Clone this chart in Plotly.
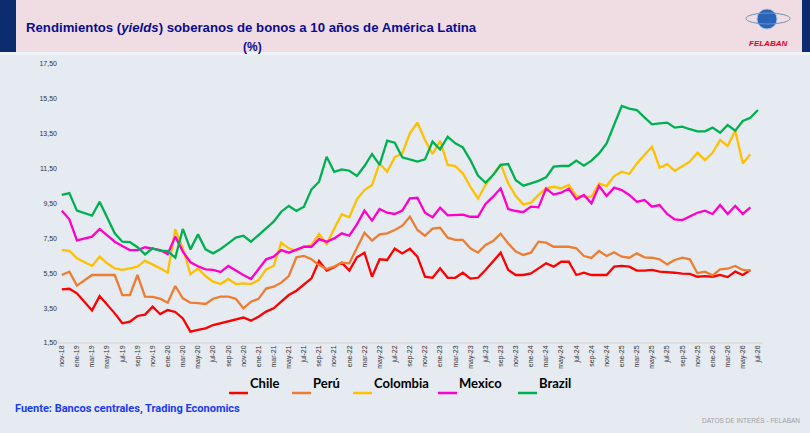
import plotly.graph_objects as go

# monthly labels nov-18 .. jul-26 (spanish abbreviations)
mes = ['ene', 'feb', 'mar', 'abr', 'may', 'jun', 'jul', 'ago', 'sep', 'oct', 'nov', 'dic']
meses = []
m, y = 10, 18
while (y, m) <= (26, 6):
    meses.append(f"{mes[m]}-{y}")
    m += 1
    if m == 12:
        m, y = 0, y + 1

chile = [4.58, 4.61, 4.35, 3.87, 3.37, 4.19, 3.72, 3.20, 2.63, 2.72, 3.05, 3.13, 3.58, 3.16, 3.39, 3.28,
         2.91, 2.15, 2.25, 2.34, 2.53, 2.63, 2.72, 2.86, 2.96, 2.78, 3.01, 3.30, 3.49, 3.87, 4.25, 4.50,
         4.86, 5.21, 6.20, 5.65, 5.84, 6.11, 5.65, 6.41, 6.68, 5.30, 6.30, 6.26, 6.91, 6.64, 6.91, 6.45,
         5.30, 5.24, 5.78, 5.24, 5.24, 5.53, 5.19, 5.24, 5.69, 6.20, 6.68, 5.69, 5.40, 5.40, 5.49, 5.78,
         6.07, 5.88, 6.16, 6.16, 5.40, 5.53, 5.40, 5.40, 5.40, 5.88, 5.92, 5.88, 5.65, 5.65, 5.69, 5.59,
         5.57, 5.53, 5.48, 5.46, 5.30, 5.34, 5.30, 5.40, 5.28, 5.59, 5.40, 5.69]

peru = [5.40, 5.59, 4.79, 5.11, 5.40, 5.40, 5.40, 5.40, 4.25, 4.25, 5.40, 4.16, 4.14, 4.04, 3.81, 4.77,
        4.06, 3.81, 3.79, 3.74, 4.04, 4.16, 4.16, 4.04, 3.49, 3.87, 4.03, 4.62, 4.73, 4.96, 5.34, 6.41,
        6.49, 6.30, 5.97, 5.74, 5.88, 6.11, 6.07, 6.93, 7.83, 7.37, 7.73, 7.79, 7.98, 8.23, 8.74, 7.98,
        7.65, 8.06, 8.11, 7.54, 7.41, 7.41, 6.93, 6.68, 7.12, 7.35, 7.77, 7.21, 6.74, 6.55, 6.68, 7.31,
        7.25, 7.02, 7.02, 7.02, 6.93, 6.49, 6.38, 6.78, 6.49, 6.70, 6.45, 6.39, 6.64, 6.41, 6.39, 6.30,
        6.01, 6.26, 6.39, 6.30, 5.50, 5.59, 5.38, 5.72, 5.76, 5.92, 5.69, 5.65]

colombia = [6.83, 6.79, 6.36, 6.13, 5.92, 6.45, 6.07, 5.78, 5.69, 5.78, 5.88, 6.22, 6.01, 5.78, 5.53, 8.02,
            6.93, 5.44, 5.78, 5.34, 5.02, 4.88, 5.17, 4.88, 4.92, 4.88, 5.11, 5.72, 5.92, 7.25, 6.93, 6.79,
            7.02, 7.12, 7.75, 7.17, 8.05, 8.88, 8.71, 9.74, 10.27, 10.56, 11.80, 11.32, 12.15, 12.37, 13.52, 14.13,
            13.14, 12.34, 13.10, 11.71, 11.65, 11.23, 10.46, 9.79, 10.56, 11.13, 11.76, 10.65, 9.93, 9.45, 9.55, 9.99,
            10.37, 10.46, 10.37, 10.56, 9.93, 9.89, 9.89, 10.65, 10.50, 11.07, 11.32, 11.19, 11.80, 12.28, 12.76, 11.55,
            11.76, 11.38, 11.65, 11.90, 12.41, 11.99, 12.41, 13.14, 12.80, 13.68, 11.80, 12.32]

mexico = [9.09, 8.59, 7.39, 7.50, 7.60, 8.04, 7.70, 7.31, 7.06, 6.83, 6.83, 6.99, 6.91, 6.83, 6.60, 7.60,
          6.74, 6.13, 5.90, 5.72, 5.69, 5.57, 5.92, 5.65, 5.40, 5.17, 5.72, 6.30, 6.45, 6.83, 6.68, 6.83,
          7.02, 7.02, 7.46, 7.31, 7.50, 7.79, 7.65, 8.30, 9.09, 8.52, 9.18, 8.97, 8.90, 9.09, 9.79, 9.83,
          8.97, 8.71, 9.26, 8.82, 8.86, 8.86, 8.74, 8.74, 9.47, 9.89, 10.37, 9.18, 9.07, 9.01, 9.32, 9.28,
          10.35, 10.01, 10.12, 10.35, 9.74, 9.99, 9.51, 10.50, 9.93, 10.41, 10.27, 9.99, 9.60, 9.70, 9.32, 9.41,
          8.90, 8.59, 8.55, 8.78, 8.97, 9.09, 8.90, 9.41, 8.90, 9.36, 8.90, 9.28]

brazil = [9.99, 10.10, 9.09, 8.94, 8.80, 9.60, 8.65, 7.79, 7.31, 7.29, 6.99, 6.58, 6.93, 6.79, 6.77, 6.39,
          8.04, 6.87, 7.73, 6.87, 6.64, 6.89, 7.21, 7.54, 7.65, 7.31, 7.69, 8.07, 8.46, 9.03, 9.36, 9.07,
          9.32, 10.31, 10.75, 12.18, 11.32, 11.46, 11.38, 11.08, 11.65, 12.34, 11.71, 13.10, 12.99, 12.15, 12.03, 11.90,
          12.03, 13.05, 12.60, 13.33, 12.95, 12.72, 11.99, 11.10, 10.69, 11.13, 11.71, 11.76, 10.84, 10.52, 10.65, 10.80,
          11.00, 11.61, 11.65, 11.65, 11.96, 11.67, 11.96, 12.37, 12.95, 14.00, 15.09, 14.94, 14.86, 14.44, 14.04, 14.10,
          14.14, 13.85, 13.91, 13.76, 13.64, 13.64, 13.85, 13.56, 14.00, 13.68, 14.23, 14.42, 14.86]

nombres = ['Chile', 'Perú', 'Colombia', 'Mexico', 'Brazil']
valores = [chile, peru, colombia, mexico, brazil]
colores = ['#ff0000', '#ed7d31', '#ffc000', '#ff00cc', '#00b050']

y_ticks = [1.5, 3.5, 5.5, 7.5, 9.5, 11.5, 13.5, 15.5, 17.5]

# plot area in pixels (810x433 page)
L, R, T, B = 58, 763, 64, 343
W, H = 810, 433


def px(x):
    return (x - L) / (R - L)


def py(y):
    return (B - y) / (B - T)


fig = go.Figure()
for name, vals, col in zip(nombres, valores, colores):
    fig.add_trace(go.Scatter(x=meses[:len(vals)], y=vals, mode='lines', name=name,
                             line=dict(color=col, width=2.3), showlegend=False))

shapes = [
    # header band
    dict(type='rect', xref='paper', yref='paper', x0=px(0), x1=px(W), y0=py(52), y1=py(0),
         fillcolor='#f0dde3', line_width=0, layer='below'),
    dict(type='rect', xref='paper', yref='paper', x0=px(0), x1=px(W), y0=py(55), y1=py(52),
         fillcolor='#eef3f8', line_width=0, layer='below'),
    dict(type='rect', xref='paper', yref='paper', x0=px(0), x1=px(16), y0=py(52), y1=py(0),
         fillcolor='#0b2c6e', line_width=0, layer='below'),
    dict(type='rect', xref='paper', yref='paper', x0=px(802), x1=px(W), y0=py(52), y1=py(0),
         fillcolor='#0b2c6e', line_width=0, layer='below'),
    # logo globe
    dict(type='circle', xref='paper', yref='paper', x0=px(757), x1=px(777), y0=py(29), y1=py(9),
         fillcolor='#2a64b8', line=dict(color='#9fc0e8', width=1)),
    dict(type='circle', xref='paper', yref='paper', x0=px(746), x1=px(790), y0=py(24), y1=py(13),
         fillcolor='rgba(0,0,0,0)', line=dict(color='#6f8fb8', width=1)),
    # x axis baseline
    dict(type='line', xref='paper', yref='paper', x0=0, x1=1, y0=0, y1=0,
         line=dict(color='#d0d0d0', width=1)),
]

annotations = [
    dict(text='<b>Rendimientos (<i>yields</i>) soberanos de bonos a 10 años de América Latina</b>',
         x=px(251), y=py(18), xref='paper', yref='paper', xanchor='center', showarrow=False,
         font=dict(family='Liberation Sans', size=13.2, color='#0c0c8e')),
    dict(text='<b>(%)</b>', x=px(252), y=py(38), xref='paper', yref='paper', xanchor='center',
         showarrow=False, font=dict(family='Liberation Sans', size=12, color='#0c0c8e')),
    dict(text='<b><i>FELABAN</i></b>', x=px(768), y=py(37), xref='paper', yref='paper',
         xanchor='center', showarrow=False,
         font=dict(family='Liberation Sans', size=8, color='#e3001b')),
    dict(text='<b>Fuente: Bancos centrales, Trading Economics</b>', x=px(13), y=py(417),
         xref='paper', yref='paper', xanchor='left', showarrow=False,
         font=dict(family='Roboto, Liberation Sans', size=11, color='#1a3cf0')),
    dict(text='DATOS DE INTERÉS - FELABAN', x=px(802), y=py(426), xref='paper', yref='paper',
         xanchor='right', showarrow=False,
         font=dict(family='Liberation Sans', size=6.5, color='#a0a0a0')),
]

# legend drawn by hand so it keeps the short line samples of the original
leg_x = [229, 292, 353, 438, 518]
for name, col, lx in zip(nombres, colores, leg_x):
    shapes.append(dict(type='line', xref='paper', yref='paper', x0=px(lx), x1=px(lx + 19),
                       y0=py(393), y1=py(393), line=dict(color=col, width=2.5)))
    annotations.append(dict(text='<b>' + name + '</b>', x=px(lx + 19), y=py(393), xref='paper',
                            yref='paper', xanchor='left', showarrow=False,
                            font=dict(family='Lato, Liberation Sans', size=13, color='#000000')))

fig.update_layout(
    width=W, height=H,
    margin=dict(l=L, r=W - R, t=T, b=H - B, pad=0),
    paper_bgcolor='#e6eaf1',
    plot_bgcolor='rgba(0,0,0,0)',
    showlegend=False,
    shapes=shapes,
    annotations=annotations,
    xaxis=dict(type='category', range=[-0.5, 92.67], tickmode='array', tickvals=meses[::2] + ['jul-26'],
               ticktext=meses[::2] + ['jul-26'], tickangle=-90, showgrid=False, zeroline=False,
               showline=False, ticks='', tickfont=dict(family='Liberation Sans', size=7, color='#333333'),
               fixedrange=True),
    yaxis=dict(range=[1.5, 17.5], tickmode='array', tickvals=y_ticks,
               ticktext=[f"{v:.2f}".replace('.', ',') for v in y_ticks],
               showgrid=False, zeroline=False, showline=False, ticks='',
               tickfont=dict(family='Liberation Sans', size=7, color='#333333'), fixedrange=True),
)

# drop the default 8px page margin so the figure sits at the window corner
fig.write_html("out.html", config={'displayModeBar': False},
               post_script="document.body.style.margin='0';")
